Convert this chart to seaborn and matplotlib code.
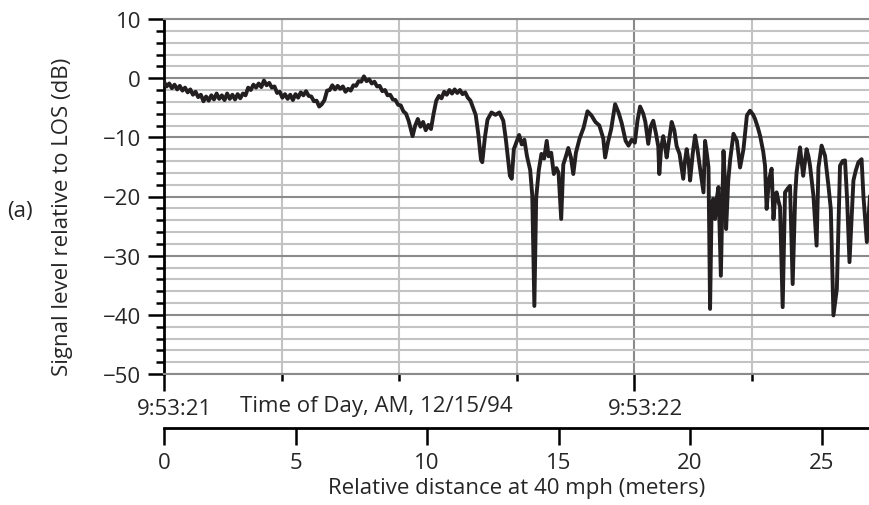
import matplotlib
matplotlib.use("Agg")
import matplotlib.pyplot as plt
import matplotlib.transforms as mtransforms
import seaborn as sns
import pandas as pd

# Signal trace: distance (m) vs level (dB re LOS)
distance_m = [
    0.0, 0.1, 0.2, 0.3, 0.4, 0.5, 0.6, 0.7, 0.8, 0.9, 1.0, 1.1, 1.2, 1.3, 1.4, 1.5,
    1.6, 1.7, 1.8, 1.9, 2.0, 2.1, 2.2, 2.3, 2.4, 2.5, 2.6, 2.7, 2.8, 2.9, 3.0, 3.1,
    3.2, 3.3, 3.4, 3.5, 3.6, 3.7, 3.8, 3.9, 4.0, 4.1, 4.2, 4.3, 4.4, 4.5, 4.6, 4.7,
    4.8, 4.9, 5.0, 5.1, 5.2, 5.3, 5.4, 5.5, 5.6, 5.7, 5.8, 5.9, 6.0, 6.1, 6.2, 6.3,
    6.4, 6.5, 6.6, 6.7, 6.8, 6.9, 7.0, 7.1, 7.2, 7.3, 7.4, 7.5, 7.6, 7.7, 7.8, 7.9,
    8.0, 8.1, 8.2, 8.3, 8.4, 8.5, 8.6, 8.7, 8.8, 8.9, 9.0, 9.1, 9.2, 9.3,
    9.45, 9.55, 9.65, 9.75, 9.85, 9.95, 10.05, 10.15, 10.25, 10.35, 10.45, 10.55,
    10.65, 10.75, 10.85, 10.95, 11.05, 11.15, 11.25, 11.35, 11.45, 11.55, 11.65, 11.75,
    11.85, 11.95, 12.05, 12.10, 12.20, 12.30, 12.45, 12.60, 12.75, 12.90, 13.00,
    13.15, 13.22, 13.30, 13.40, 13.50, 13.60, 13.70, 13.80, 13.92, 14.00, 14.08, 14.15,
    14.25, 14.35, 14.45, 14.55, 14.62, 14.72, 14.82, 14.92, 15.00, 15.10, 15.18, 15.28,
    15.37, 15.47, 15.56, 15.66, 15.80, 15.95, 16.10, 16.25, 16.40, 16.55, 16.70, 16.77,
    16.88, 17.00, 17.15, 17.28, 17.40, 17.55, 17.66, 17.78, 17.90, 18.00, 18.10, 18.22,
    18.30, 18.41, 18.50, 18.60, 18.70, 18.79, 18.83, 18.90, 18.98, 19.05, 19.11, 19.20,
    19.30, 19.40, 19.49, 19.60, 19.74, 19.80, 19.87, 19.95, 20.00, 20.10, 20.19, 20.28,
    20.38, 20.51, 20.57, 20.65, 20.70, 20.76, 20.82, 20.88, 20.95, 21.02, 21.08, 21.17,
    21.27, 21.33, 21.37, 21.45, 21.52, 21.65, 21.78, 21.90, 22.03, 22.16, 22.28, 22.40,
    22.47, 22.58, 22.66, 22.78, 22.85, 22.91, 23.00, 23.10, 23.17, 23.24, 23.29, 23.36,
    23.42, 23.52, 23.61, 23.72, 23.80, 23.90, 24.00, 24.05, 24.18, 24.30, 24.43, 24.50,
    24.56, 24.69, 24.81, 24.88, 25.00, 25.13, 25.26, 25.35, 25.45, 25.58, 25.70, 25.80,
    25.89, 25.97, 26.06, 26.21, 26.30, 26.40, 26.52, 26.59, 26.72, 26.84,
]
level_db = [
    -0.6, -1.4, -0.9, -1.7, -1.1, -1.9, -1.3, -2.1, -1.6, -2.4, -1.9, -2.8, -2.3, -3.2, -2.8, -3.9,
    -3.1, -3.8, -2.9, -3.6, -2.6, -3.5, -2.9, -3.7, -2.6, -3.5, -2.8, -3.6, -2.7, -3.4, -2.6, -2.9,
    -1.6, -2.0, -1.1, -1.6, -0.9, -1.5, -0.4, -1.2, -0.8, -1.6, -1.4, -2.5, -2.3, -3.3, -2.7, -3.5,
    -2.8, -3.7, -2.7, -3.3, -2.4, -2.9, -2.2, -3.0, -3.1, -3.9, -3.8, -4.8, -4.4, -3.7, -2.1, -2.0,
    -1.2, -1.9, -1.3, -1.8, -1.4, -2.3, -1.8, -2.1, -1.2, -1.3, -0.5, -0.6, 0.3, -0.5, -0.2, -0.9,
    -0.6, -1.4, -1.3, -2.2, -2.0, -2.9, -2.8, -3.6, -3.7, -4.5, -4.6, -5.6, -6.0, -7.2,
    -9.8, -8.0, -6.9, -8.2, -7.4, -8.8, -7.9, -8.6, -6.0, -3.8, -3.0, -3.4,
    -2.3, -2.8, -2.0, -2.6, -1.9, -2.5, -2.0, -2.7, -2.4, -3.3, -3.8, -5.0,
    -6.2, -9.5, -13.8, -14.2, -10.0, -7.0, -5.8, -6.2, -5.8, -7.2, -10.5,
    -16.5, -17.0, -12.0, -10.8, -9.6, -11.2, -10.4, -13.2, -15.5, -19.8, -38.5, -20.2,
    -15.5, -12.8, -13.6, -10.6, -13.2, -12.6, -16.2, -15.2, -16.0, -23.8, -14.6, -13.2,
    -11.8, -13.4, -16.2, -12.6, -10.2, -8.4, -5.6, -6.3, -7.4, -8.0, -10.2, -13.4,
    -10.8, -8.6, -4.4, -5.8, -7.6, -10.6, -11.4, -10.4, -10.9, -7.2, -4.8, -6.0,
    -7.4, -11.1, -8.2, -7.2, -9.3, -11.5, -16.2, -11.8, -9.8, -11.6, -13.4, -10.6,
    -7.4, -8.8, -11.5, -12.8, -17.0, -14.2, -12.0, -14.4, -17.3, -12.8, -9.7, -12.0,
    -15.3, -19.3, -10.6, -13.2, -15.1, -39.0, -21.5, -20.4, -23.8, -20.2, -18.4, -33.4,
    -12.3, -18.0, -25.5, -17.4, -13.9, -9.4, -10.6, -15.1, -12.0, -6.3, -5.5, -6.2,
    -6.9, -8.4, -9.7, -12.4, -14.8, -22.1, -17.2, -15.3, -23.8, -19.8, -19.3, -20.8,
    -21.8, -38.7, -19.3, -18.6, -18.2, -34.8, -19.4, -15.9, -11.7, -16.5, -12.0, -13.2,
    -14.8, -19.9, -28.3, -15.1, -11.4, -13.1, -18.2, -22.1, -40.1, -35.6, -14.8, -14.0,
    -13.9, -20.5, -31.1, -17.3, -15.6, -14.2, -13.7, -19.9, -27.7, -19.9,
]

# time-of-day axis (one second = 17.88 m at 40 mph, grid every quarter second)
time_major_pos = [0.0, 17.88]
time_major_labels = ["9:53:21", "9:53:22"]
time_minor_pos = [4.47, 8.94, 13.41, 22.35]
distance_ticks = [0, 5, 10, 15, 20, 25]
level_ticks = [-50, -40, -30, -20, -10, 0, 10]

df = pd.DataFrame({"distance": distance_m, "level": level_db})

sns.set_style("white")
plt.rcParams["font.family"] = ["Open Sans", "DejaVu Sans"]
fs = 16

fig = plt.figure(figsize=(8.7, 5.06), dpi=100)
W, H = 870, 506
ax = fig.add_axes([164 / W, 1 - 375 / H, (870 - 164) / W, 355 / H])

light = "#c3c3c3"
dark = "#8a8a8a"
ink = "#231f20"

sns.lineplot(data=df, x="distance", y="level", ax=ax, color=ink, lw=2.8,
             sort=False, estimator=None, zorder=5)

ax.set_xlim(0, 26.84)
ax.set_ylim(-50, 10)

ax.set_yticks(level_ticks)
ax.set_yticks(list(range(-50, 11, 2)), minor=True)
ax.set_xticks(time_major_pos)
ax.set_xticklabels(time_major_labels)
ax.set_xticks(time_minor_pos, minor=True)

ax.grid(which="major", color=dark, lw=1.5, zorder=1)
ax.grid(which="minor", color=light, lw=1.5, zorder=0)
ax.set_axisbelow(True)

ax.tick_params(axis="y", which="major", direction="out", length=11.5, width=1.8,
               color="black", labelsize=fs, pad=5, left=True)
ax.tick_params(axis="y", which="minor", direction="out", length=5.8, width=1.8,
               color="black", left=True)
ax.tick_params(axis="x", which="major", direction="out", length=12, width=1.8,
               color="black", labelsize=fs, pad=5, bottom=True)
ax.tick_params(axis="x", which="minor", direction="out", length=5, width=1.8,
               color="black", bottom=True)

offset = mtransforms.ScaledTranslation(11 / 100, 0, fig.dpi_scale_trans)
for lab in ax.get_xticklabels():
    lab.set_transform(lab.get_transform() + offset)

for side in ["top", "bottom"]:
    ax.spines[side].set_color(dark)
    ax.spines[side].set_linewidth(1.5)
ax.spines["right"].set_visible(False)
ax.spines["left"].set_color("black")
ax.spines["left"].set_linewidth(2.0)
ax.set_xlabel("")
ax.set_ylabel("")

# lower distance axis
sec = ax.secondary_xaxis(-54 / 355, functions=(lambda x: x, lambda x: x))
sec.set_xticks(distance_ticks)
sec.tick_params(direction="out", length=12, width=1.8, color="black",
                labelsize=fs, pad=5)
sec.spines["bottom"].set_linewidth(2.0)
sec.spines["bottom"].set_color("black")
sec.set_xlabel("Relative distance at 40 mph (meters)", fontsize=fs, labelpad=3)

fig.text(240 / W, 1 - 407 / H, "Time of Day, AM, 12/15/94", fontsize=fs,
         ha="left", va="center")
fig.text(62.5 / W, 1 - 217 / H, "Signal level relative to LOS (dB)", fontsize=fs,
         rotation=90, ha="center", va="center")
fig.text(20 / W, 1 - 211 / H, "(a)", fontsize=fs, ha="center", va="center")

fig.savefig("out.png", dpi=100)
